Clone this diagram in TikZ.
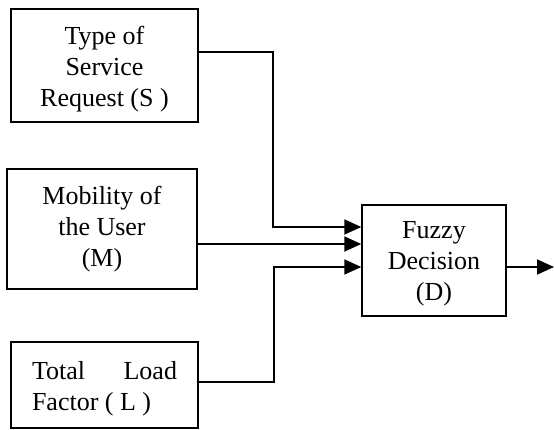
\documentclass[tikz,border=0pt]{standalone}
\usepackage{fontspec}
\setmainfont{Liberation Serif}
\usetikzlibrary{arrows.meta}
\begin{document}
\begin{tikzpicture}[x=1pt,y=-1pt,
  blk/.style={draw, line width=1.5pt, rectangle, inner sep=0pt, align=center,
    font=\fontsize{26}{31}\selectfont},
  arr/.style={line width=1.8pt, -{Triangle[length=17pt,width=15pt]}}]
\useasboundingbox (0,0) rectangle (554,429);
\node[blk, minimum width=187pt, minimum height=113pt] (S) at (104.5,65.5)
  {\rule{0pt}{26pt}Type of\\Service\\Request (S )};
\node[blk, minimum width=190pt, minimum height=120pt] (M) at (102,229)
  {Mobility of\\the User\\(M)};
\node[blk, minimum width=144pt, minimum height=111pt] (D) at (434,260.5)
  {\rule{0pt}{24pt}Fuzzy\\Decision\\(D)};
\node[blk, minimum width=187pt, minimum height=86pt] (L) at (104.5,385)
  {\begin{minipage}{145pt}\vspace{8pt}\raggedright Total\hfill Load\\Factor ( L )\end{minipage}};
\coordinate (out) at (554,267);
\draw[arr] ([yshift=13.5pt]S.east) -- ++(74pt,0) |- ([yshift=33.5pt]D.west);
\draw[arr] ([yshift=-15pt]M.east) -- ([yshift=-15pt]M.east -| D.west);
\draw[arr] ([yshift=3pt]L.east) -- ++(75pt,0) |- ([yshift=-6.5pt]D.west);
\draw[arr] ([yshift=-6.5pt]D.east) -- (out);
\end{tikzpicture}
\end{document}
